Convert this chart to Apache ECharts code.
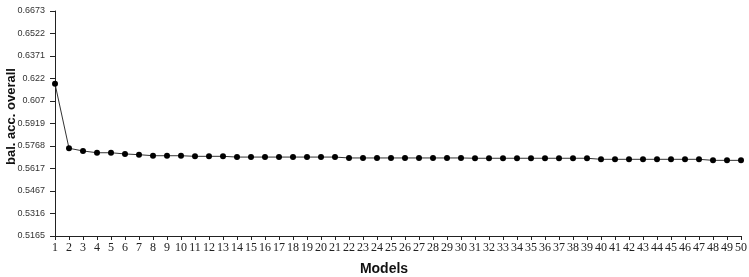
<!DOCTYPE html>
<html>
<head>
<meta charset="utf-8">
<script src="https://cdn.jsdelivr.net/npm/echarts@6/dist/echarts.min.js"></script>
<style>html,body{margin:0;padding:0;background:#fff;}#c{width:749px;height:277px;}</style>
</head>
<body>
<div id="c"></div>
<script>
const models = Array.from({length: 50}, (_, i) => String(i + 1));
const balAcc = [
  0.6185, 0.5753, 0.5735, 0.5723, 0.5723, 0.5715, 0.5710, 0.5703, 0.5703, 0.5703,
  0.5699, 0.5699, 0.5699, 0.5694, 0.5694, 0.5694, 0.5694, 0.5694, 0.5694, 0.5694,
  0.5694, 0.5688, 0.5688, 0.5688, 0.5688, 0.5688, 0.5688, 0.5688, 0.5688, 0.5688,
  0.5686, 0.5686, 0.5686, 0.5686, 0.5686, 0.5686, 0.5686, 0.5686, 0.5686, 0.5679,
  0.5679, 0.5679, 0.5679, 0.5679, 0.5679, 0.5679, 0.5679, 0.5672, 0.5672, 0.5672
];
const yTickLabels = ['0.5165','0.5316','0.5467','0.5617','0.5768','0.5919','0.607','0.622','0.6371','0.6522','0.6673'];
const yMin = 0.5165, yMax = 0.6673, yStep = 0.01508;

const chart = echarts.init(document.getElementById('c'), null, {renderer: 'canvas'});
chart.setOption({
  animation: false,
  backgroundColor: '#fff',
  grid: {left: 55, right: 8, top: 11, bottom: 41, containLabel: false, outerBoundsMode: 'none'},
  xAxis: {
    type: 'category',
    data: models,
    boundaryGap: false,
    name: 'Models',
    nameLocation: 'middle',
    nameGap: 26,
    nameMoveOverlap: false,
    nameTextStyle: {fontFamily: 'Liberation Sans, Arial', fontWeight: 'bold', fontSize: 14, color: '#111', padding: [0, 28, 0, 0]},
    axisLine: {lineStyle: {color: '#222', width: 1}},
    axisTick: {show: true, inside: false, length: 4, alignWithLabel: true, interval: 0, lineStyle: {color: '#222'}},
    axisLabel: {interval: 0, margin: 6, fontFamily: 'Liberation Serif, Times New Roman', fontSize: 12, color: '#222'},
    splitLine: {show: false}
  },
  yAxis: {
    type: 'value',
    min: yMin,
    max: yMax,
    interval: yStep,
    name: 'bal. acc. overall',
    nameLocation: 'middle',
    nameGap: 37,
    nameMoveOverlap: false,
    nameTextStyle: {fontFamily: 'Liberation Sans, Arial', fontWeight: 'bold', fontSize: 13, color: '#111', padding: [0, 0, 0, 14]},
    axisLine: {show: true, lineStyle: {color: '#222', width: 1}},
    axisTick: {show: true, length: 5, lineStyle: {color: '#222'}},
    axisLabel: {
      margin: 10,
      fontFamily: 'Liberation Sans Narrow, Liberation Sans, Arial',
      fontSize: 9,
      color: '#333',
      formatter: function (v) {
        const idx = Math.round((v - yMin) / yStep);
        return yTickLabels[idx] !== undefined ? yTickLabels[idx] : '';
      }
    },
    splitLine: {show: false}
  },
  series: [{
    type: 'line',
    data: balAcc,
    symbol: 'circle',
    symbolSize: 6,
    showAllSymbol: true,
    itemStyle: {color: '#000'},
    lineStyle: {color: '#333', width: 1}
  }]
});
</script>
</body>
</html>
